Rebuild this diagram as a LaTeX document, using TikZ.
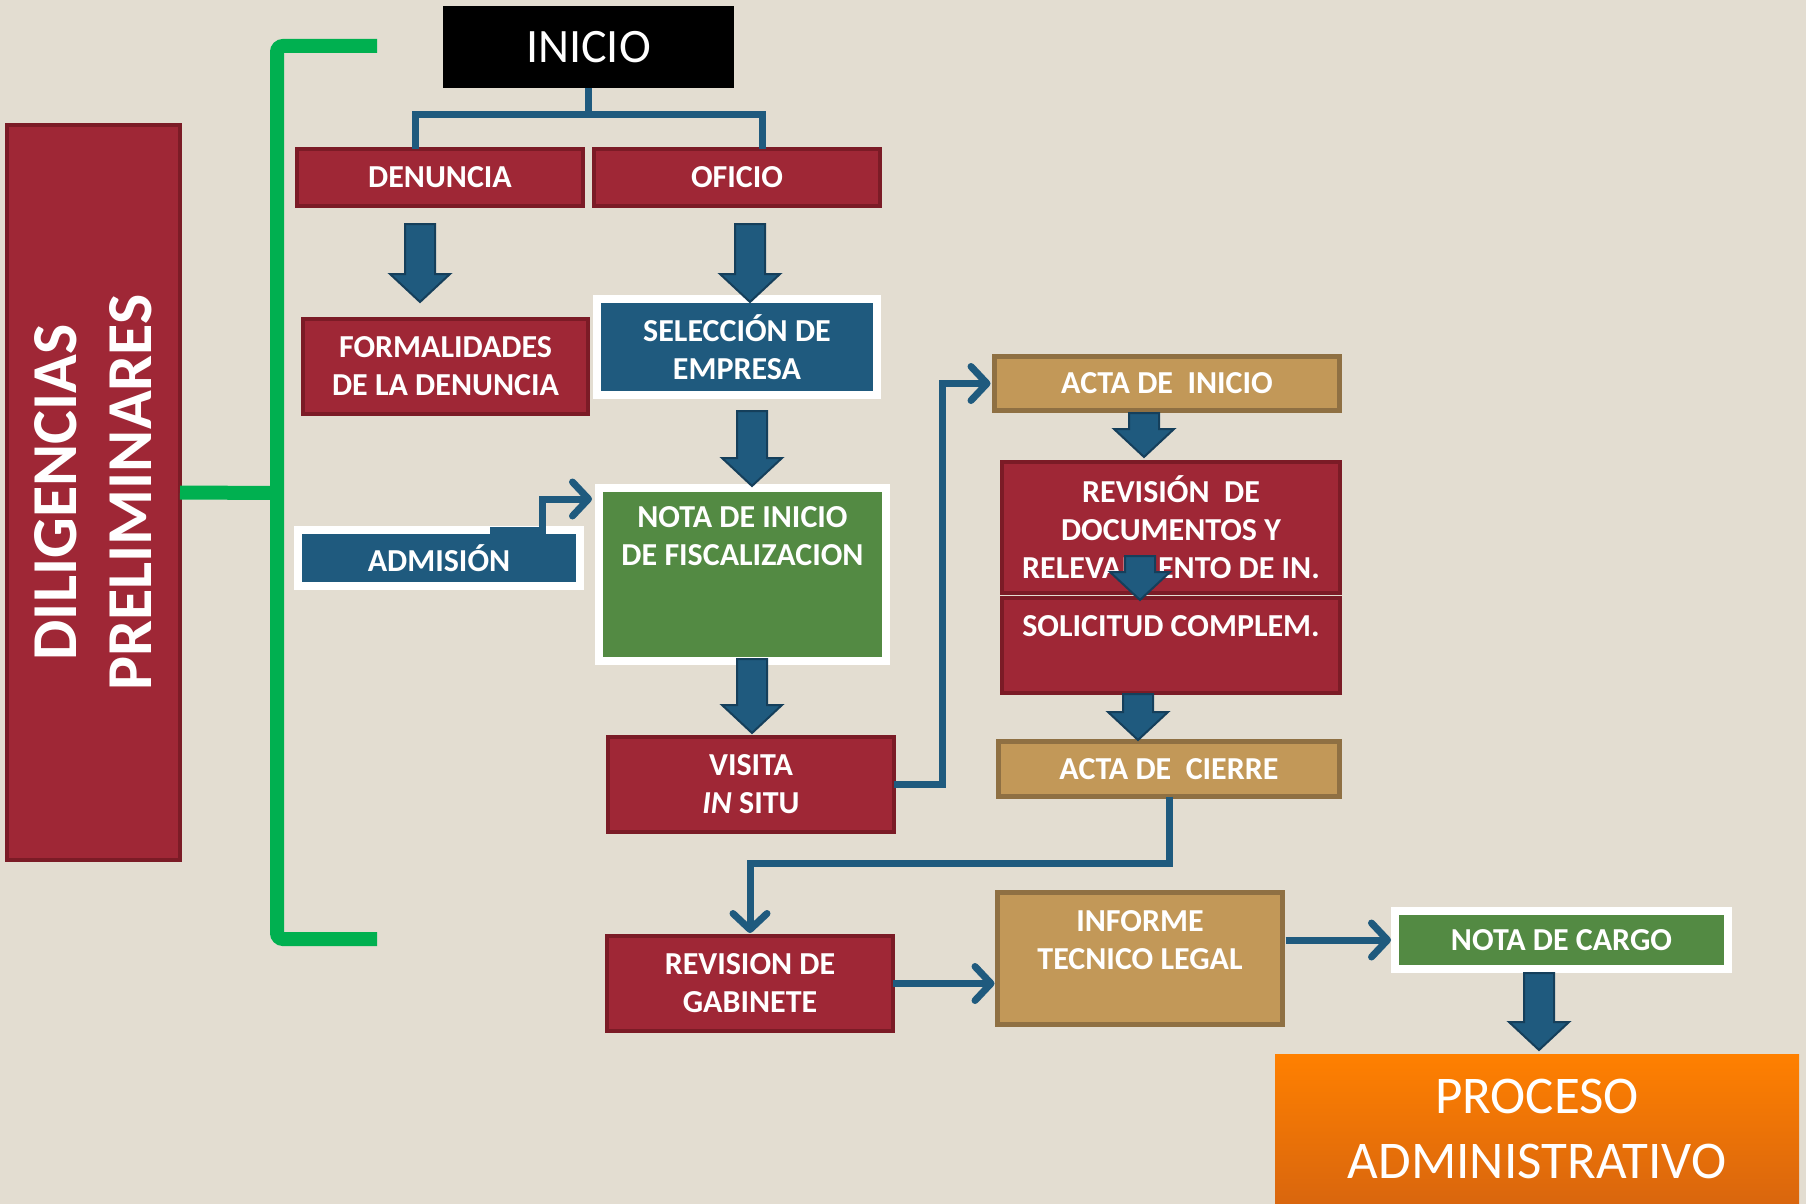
\documentclass[tikz,border=0pt]{standalone}
\usepackage{fontspec}
\setmainfont{Carlito}
\usetikzlibrary{arrows.meta}
\usetikzlibrary{calc}

\definecolor{fondo}{HTML}{E3DDD1}
\definecolor{rojo}{HTML}{9F2736}
\definecolor{rojoborde}{HTML}{7B1B26}
\definecolor{azul}{HTML}{1F5A7E}
\definecolor{azulborde}{HTML}{153F5B}
\definecolor{verde}{HTML}{538A43}
\definecolor{ocre}{HTML}{C29858}
\definecolor{ocreborde}{HTML}{8F7043}
\definecolor{verdelinea}{HTML}{00B050}
\definecolor{naranja}{HTML}{FF8000}
\definecolor{naranjaosc}{HTML}{D9660E}

% block arrow: x, top y, tip y
\newcommand{\bigarrow}[3]{%
  \draw[bloque] (#1-15,#2) -- (#1+15,#2) -- (#1+15,#3-28) -- (#1+30,#3-28) -- (#1,#3) -- (#1-30,#3-28) -- (#1-15,#3-28) -- cycle;}

\tikzset{
  caja/.style={draw, line width=4pt, inner sep=0pt, outer sep=0pt, text=white, align=center,
    font=\bfseries\fontsize{32}{38}\selectfont},
  rojo/.style={caja, fill=rojo, draw=rojoborde},
  azul/.style={caja, fill=azul, draw=white, line width=8pt},
  verde/.style={caja, fill=verde, draw=white, line width=8pt},
  ocre/.style={caja, fill=ocre, draw=ocreborde, line width=5pt},
  conector/.style={draw=azul, line width=7pt},
  flecha/.style={conector, -{Straight Barb[length=16pt,width=34pt,round]}},
  bloque/.style={fill=azul, draw=azulborde, line width=2pt},
  corchete/.style={draw=verdelinea, line width=14pt, rounded corners=6pt},
}

\begin{document}
\begin{tikzpicture}[x=1pt,y=1pt,yscale=-1,xscale=1]
%Background
\fill[fondo] (0,0) rectangle (1806,1204);
\useasboundingbox (0,0) rectangle (1806,1204);

%Shape: Rectangle [id:inicio]
\node[caja, fill=black, draw=none, minimum width=291, minimum height=82, font=\fontsize{48}{56}\selectfont] (inicio) at (588.5,47) {INICIO};
%Shape: Rectangle [id:dilig]
\node[rojo, rotate=90, minimum width=735, minimum height=173, font=\bfseries\fontsize{64}{75}\selectfont] (dilig) at (93.5,492.5) {DILIGENCIAS\\PRELIMINARES};

%Green bracket
\coordinate (brtop) at (377,46);
\coordinate (brbot) at (377,939);
\coordinate (brmid) at (277,493);
\draw[corchete] (brtop) -- (277,46) -- (277,939) -- (brbot);
\draw[corchete, rounded corners=0pt] (dilig.south) -- (brmid);

%Row 1
\node[rojo, minimum width=286, minimum height=57] (denuncia) at (440,177.5) {DENUNCIA};
\node[rojo, minimum width=286, minimum height=57] (oficio) at (737,177.5) {OFICIO};
%Straight Lines
\draw[conector] (inicio.south) -- ++(0,25);
\draw[conector] ($(denuncia.north)+(-25,0)$) -- ++(0,-34) -| ($(oficio.north)+(25,0)$);

%Row 2
\node[rojo, minimum width=285, minimum height=95] (formal) at (445.5,366.5) {FORMALIDADES\\DE LA DENUNCIA};
\node[azul, minimum width=280, minimum height=96] (seleccion) at (737,347) {SELECCIÓN DE\\EMPRESA};
\bigarrow{420}{224}{302}
\bigarrow{750}{224}{302}

%Row 3
\node[verde, minimum width=287, minimum height=173] (notaini) at (742.5,574.5) {NOTA DE INICIO\\DE FISCALIZACION\\~\\~};
\node[azul, minimum width=282, minimum height=56] (admision) at (439,558) {ADMISIÓN};
\bigarrow{752}{411}{486}
\coordinate (admtip) at (592,499);
\draw[flecha] ($(admision.north)+(51,0)$) -- ++(52,0) |- (admtip);

%Row 4
\node[rojo, minimum width=286, minimum height=95] (visita) at (751,784.5) {VISITA\\{\itshape IN} SITU};
\bigarrow{752}{659}{733}

%Right column
\node[ocre, minimum width=345, minimum height=54] (actaini) at (1167,383.5) {ACTA DE\ \ INICIO};
\node[rojo, minimum width=338, minimum height=131.5] (revdoc) at (1171,527.5) {REVISIÓN\ \ DE\\DOCUMENTOS Y\\RELEVAMIENTO DE IN.};
\node[rojo, minimum width=338, minimum height=95] (solicitud) at (1171,645) {SOLICITUD COMPLEM.\\~};
\node[ocre, minimum width=341, minimum height=55] (actacie) at (1169,769) {ACTA DE\ \ CIERRE};
\bigarrow{1144}{413}{457}
\bigarrow{1140}{556}{600}
\bigarrow{1138}{694}{740}
\draw[flecha, shorten >=4pt] (visita.east) -- ++(48,0) |- (actaini.west);

%Bottom row
\node[rojo, minimum width=286, minimum height=95] (revgab) at (750,983.5) {REVISION DE\\GABINETE};
\node[ocre, minimum width=285, minimum height=132] (informe) at (1140,958.5) {INFORME\\TECNICO LEGAL\\~};
\node[verde, minimum width=333, minimum height=57.5] (notacargo) at (1561.5,940) {NOTA DE CARGO};
\node[caja, draw=none, top color=naranja, bottom color=naranjaosc, minimum width=524, minimum height=150, font=\fontsize{53}{64.5}\selectfont] (proceso) at (1537,1129) {PROCESO\\ADMINISTRATIVO};
\draw[flecha, shorten >=3pt] (actacie.south) -- ++(0,67) -| (revgab.north);
\draw[flecha, shorten >=3pt] (revgab.east) -- (revgab.east -| informe.west);
\draw[flecha, shorten >=4pt, shorten <=3pt] (informe.east |- notacargo.west) -- (notacargo.west);
\bigarrow{1539}{973}{1050}

\end{tikzpicture}
\end{document}
